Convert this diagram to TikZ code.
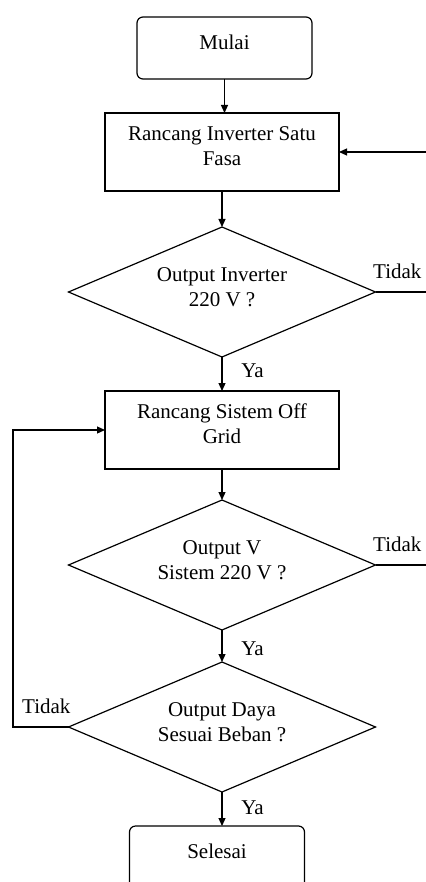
\documentclass[tikz,border=0pt]{standalone}
\usepackage{fontspec}
\setmainfont{Liberation Serif}
\usetikzlibrary{positioning,arrows.meta,shapes.geometric}

\begin{document}
\begin{tikzpicture}[font=\fontsize{10.5}{12.5}\selectfont,>={Triangle[length=4pt,width=3.5pt]},node distance=17pt,semithick]
  \tikzstyle{term}=[draw,rounded corners=3pt,outer sep=0pt,text depth=6pt,minimum width=87.5pt,minimum height=31pt]
  \tikzstyle{proc}=[draw,align=center,outer sep=0pt,text depth=6pt,minimum width=117pt,minimum height=39pt]
  \tikzstyle{cond}=[draw,diamond,aspect=2.4,align=center,outer sep=0pt,text depth=5pt,inner sep=0pt,minimum width=153.5pt,minimum height=65pt]
  \useasboundingbox (0,0) rectangle (212.5pt,-441pt);
  % main column, top to bottom
  \node[term] (mulai) at (112.25pt,-24pt) {Mulai};
  \node[below=of mulai,proc,xshift=-1.25pt] (inv) {Rancang Inverter Satu\\Fasa};
  \node[below=18pt of inv,cond] (cekinv) {Output Inverter\\220 V ?};
  \node[below=of cekinv,proc] (grid) {Rancang Sistem Off\\Grid};
  \node[below=15.5pt of grid,cond] (cekv) {Output V\\Sistem 220 V ?};
  \node[below=16pt of cekv,cond] (cekdaya) {Output Daya\\Sesuai Beban ?};
  \node[below=of cekdaya,term,xshift=-2.5pt] (selesai) {Selesai};
  % loop columns
  \coordinate (lft) at (6.5pt,0);
  \coordinate (rgt) at (215pt,0);
  % down arrows
  \draw[->] (mulai.south) -- (mulai.south |- inv.north);
  \draw[->] (inv) -- (cekinv);
  \draw[->] (cekinv) -- node[pos=0.4,right=6pt]{Ya} (grid);
  \draw[->] (grid) -- (cekv);
  \draw[->] (cekv) -- node[pos=0.6,right=6pt]{Ya} (cekdaya);
  \draw[->] (cekdaya.south) -- node[pos=0.45,right=6pt]{Ya} (cekdaya.south |- selesai.north);
  % back loops
  \draw[->] (cekinv.east) -- node[pos=0.4,above=3pt]{Tidak} (cekinv.east -| rgt) |- (inv.east);
  \draw (cekv.east) -- node[pos=0.4,above=3pt]{Tidak} (cekv.east -| rgt) -- (cekinv.east -| rgt);
  \draw[->] (cekdaya.west) -- node[pos=0.4,above=3pt]{Tidak} (cekdaya.west -| lft) |- (grid.west);
\end{tikzpicture}
\end{document}
